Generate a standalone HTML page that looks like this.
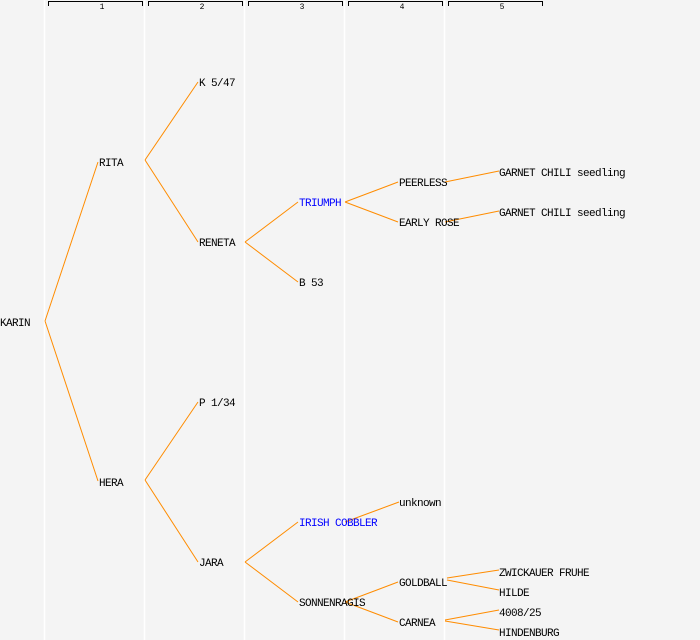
<!DOCTYPE html>
<html><head><meta charset="utf-8"><style>
html,body{margin:0;padding:0;background:#f4f4f4;}
svg{display:block}
text{font-family:"Liberation Mono","DejaVu Sans Mono",monospace;font-size:11px;letter-spacing:-0.6px;fill:#000}
.b{fill:#0000ff}
.h{font-size:8px;letter-spacing:0}
</style></head><body>
<svg width="700" height="640" viewBox="0 0 700 640" xmlns="http://www.w3.org/2000/svg">
<rect width="700" height="640" fill="#f4f4f4"/>
<g stroke="#ffffff" stroke-width="1.5">
<line x1="44.5" y1="0" x2="44.5" y2="640"/><line x1="144.5" y1="0" x2="144.5" y2="640"/>
<line x1="244.5" y1="0" x2="244.5" y2="640"/><line x1="344.5" y1="0" x2="344.5" y2="640"/>
<line x1="444.5" y1="0" x2="444.5" y2="640"/>
</g>
<g stroke="#000" stroke-width="1" fill="none">
<path d="M48.5 6V1.5H142.5V6"/><path d="M148.5 6V1.5H242.5V6"/><path d="M248.5 6V1.5H342.5V6"/>
<path d="M348.5 6V1.5H442.5V6"/><path d="M448.5 6V1.5H542.5V6"/>
</g>
<g class="h" text-anchor="middle">
<text class="h" x="102" y="9">1</text><text class="h" x="202" y="9">2</text><text class="h" x="302" y="9">3</text>
<text class="h" x="402" y="9">4</text><text class="h" x="502" y="9">5</text>
</g>
<g stroke="#ff8c00" stroke-width="1" fill="none">
<path d="M45 321L98 162M45 321L98 481"/>
<path d="M145 160L198 82M145 160L198 242"/>
<path d="M245 242L298 202M245 242L298 282"/>
<path d="M345 202L398 182M345 202L398 222"/>
<path d="M445 182L499 171M445 222L499 211"/>
<path d="M145 480L198 402M145 480L198 562"/>
<path d="M245 562L298 522M245 562L298 602"/>
<path d="M345 522L399 502"/>
<path d="M345 602L398 582M345 602L398 622"/>
<path d="M447 578L499 570M447 580L499 590"/>
<path d="M445 620L499 610M445 621L499 630"/>
</g>
<text x="0" y="326">KARIN</text>
<text x="99" y="166">RITA</text>
<text x="99" y="486">HERA</text>
<text x="199" y="86">K 5/47</text>
<text x="199" y="246">RENETA</text>
<text x="199" y="406">P 1/34</text>
<text x="199" y="566">JARA</text>
<text class="b" x="299" y="206">TRIUMPH</text>
<text x="299" y="286">B 53</text>
<text class="b" x="299" y="526">IRISH COBBLER</text>
<text x="299" y="606">SONNENRAGIS</text>
<text x="399" y="186">PEERLESS</text>
<text x="399" y="226">EARLY ROSE</text>
<text x="399" y="506">unknown</text>
<text x="399" y="586">GOLDBALL</text>
<text x="399" y="626">CARNEA</text>
<text x="499" y="176">GARNET CHILI seedling</text>
<text x="499" y="216">GARNET CHILI seedling</text>
<text x="499" y="576">ZWICKAUER FRUHE</text>
<text x="499" y="596">HILDE</text>
<text x="499" y="616">4008/25</text>
<text x="499" y="636">HINDENBURG</text>
</svg>
</body></html>
